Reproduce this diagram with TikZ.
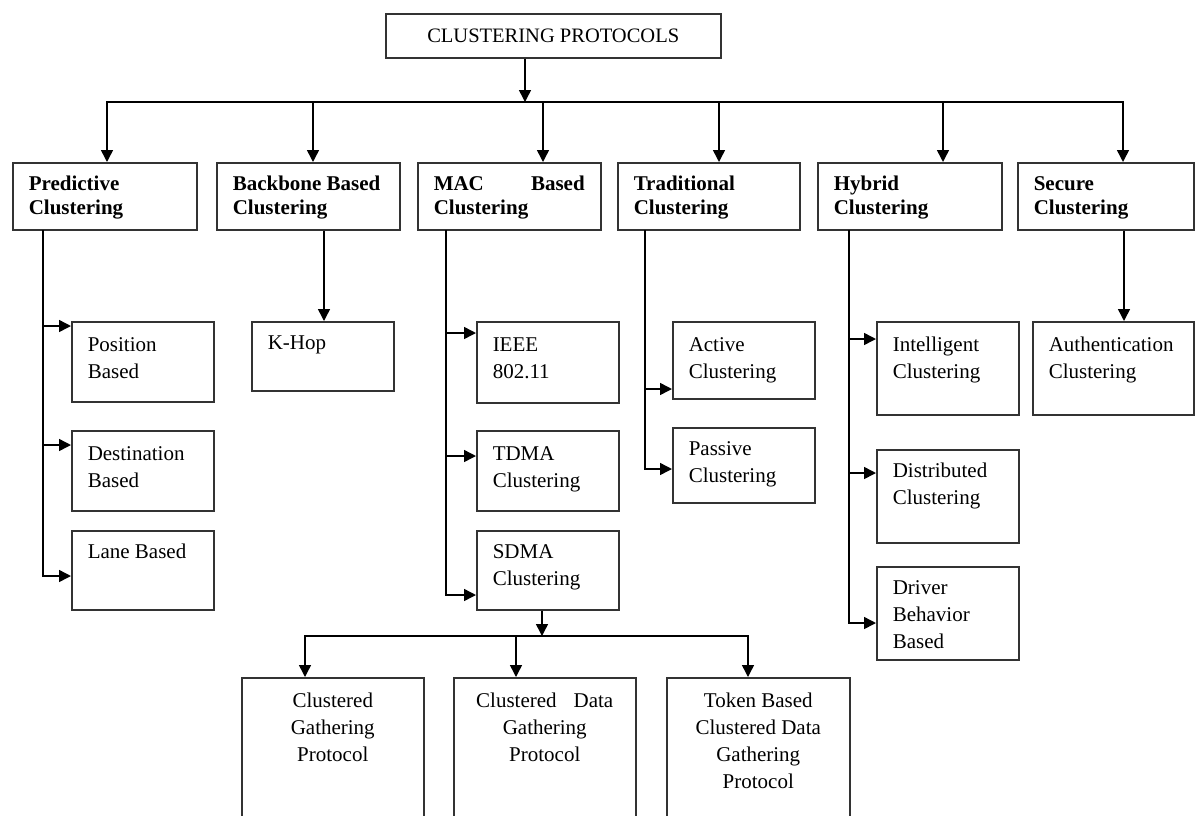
\documentclass[tikz,border=0pt]{standalone}
\usepackage{fontspec}
\setmainfont{Liberation Serif}
\usetikzlibrary{arrows.meta}

% text of a box: width, height, first baseline, lines
\newcommand{\celltxt}[4]{\parbox[c][#2pt][t]{#1pt}{\raggedright\leftskip=16pt\rightskip=16pt plus 2em\rule{0pt}{#3pt}#4}}
\newcommand{\midtxt}[2]{\parbox[c][160pt][t]{#1pt}{\centering\rule{0pt}{30pt}#2}}

\begin{document}
\begin{tikzpicture}[x=1pt, y=-1pt,
    head/.style={draw=black!80, line width=1.5pt, inner sep=0pt, anchor=north west, font=\bfseries\fontsize{21}{24}\selectfont},
    leaf/.style={draw=black!80, line width=1.5pt, inner sep=0pt, anchor=north west, font=\fontsize{21}{27}\selectfont},
    arr/.style={line width=1.5pt, -{Triangle[length=12pt,width=12pt]}},
    wire/.style={line width=1.5pt, line cap=rect}]
  \useasboundingbox (0,0) rectangle (1195,815);
  \clip (0,0) rectangle (1195,815);

  % Root
  \node[draw=black!80, line width=1.5pt, inner sep=0pt, anchor=north west, minimum width=335pt, minimum height=44pt,
        font=\fontsize{20.5}{24}\selectfont] (title) at (385,13) {CLUSTERING PROTOCOLS};

  % Families
  \node[head] (pred) at (12,162)   {\celltxt{184}{67}{28}{Predictive\\Clustering}};
  \node[head] (bone) at (216,162)  {\celltxt{183}{67}{28}{Backbone Based\\Clustering}};
  \node[head] (mac)  at (417,162)  {\celltxt{183}{67}{28}{MAC\hfill Based\\Clustering}};
  \node[head] (trad) at (617,162)  {\celltxt{182}{67}{28}{Traditional\\Clustering}};
  \node[head] (hyb)  at (817,162)  {\celltxt{184}{67}{28}{Hybrid\\Clustering}};
  \node[head] (sec)  at (1017,162) {\celltxt{176}{67}{28}{Secure\\Clustering}};

  % Leaves
  \node[leaf] (pos)   at (71,321)   {\celltxt{142}{80}{30}{Position\\Based}};
  \node[leaf] (dest)  at (71,430)   {\celltxt{142}{80}{30}{Destination\\Based}};
  \node[leaf] (lane)  at (71,530)   {\celltxt{142}{79}{28}{Lane Based}};
  \node[leaf] (khop)  at (251,321)  {\celltxt{142}{69}{28}{K-Hop}};
  \node[leaf] (ieee)  at (476,321)  {\celltxt{142}{81}{30}{IEEE\\802.11}};
  \node[leaf] (tdma)  at (476,430)  {\celltxt{142}{80}{30}{TDMA\\Clustering}};
  \node[leaf] (sdma)  at (476,530)  {\celltxt{142}{79}{28}{SDMA\\Clustering}};
  \node[leaf] (act)   at (672,321)  {\celltxt{142}{77}{30}{Active\\Clustering}};
  \node[leaf] (pas)   at (672,427)  {\celltxt{142}{75}{28}{Passive\\Clustering}};
  \node[leaf] (intel) at (876,321)  {\celltxt{142}{93}{30}{Intelligent\\Clustering}};
  \node[leaf] (dist)  at (876,449)  {\celltxt{142}{93}{28}{Distributed\\Clustering}};
  \node[leaf] (drv)   at (876,566)  {\celltxt{142}{93}{28}{Driver\\Behavior\\Based}};
  \node[leaf] (auth)  at (1032,321) {\celltxt{161}{93}{30}{Authentication\\Clustering}};

  % SDMA protocols
  \node[leaf] (cgp)  at (241,677) {\midtxt{182}{Clustered\\Gathering\\Protocol}};
  \node[leaf] (cdgp) at (453,677) {\midtxt{182}{Clustered\hspace{17pt}Data\\Gathering\\Protocol}};
  \node[leaf] (tok)  at (666,677) {\midtxt{183}{Token Based\\Clustered Data\\Gathering\\Protocol}};

  % Root to families
  \coordinate (hub) at (525,102);
  \draw[arr] (hub |- title.south) -- (hub);
  \draw[wire] (107,102) -- (1123,102);
  \foreach \x/\n in {107/pred, 313/bone, 543/mac, 719/trad, 943/hyb, 1123/sec}
    \draw[arr] (\x,102) -- (\x,0 |- \n.north);

  % Predictive
  \draw[wire] (43,0 |- pred.south) -- (43,576);
  \foreach \y/\n in {326/pos, 445/dest, 576/lane}
    \draw[arr] (43,\y) -- (\n.west |- 43,\y);

  % Backbone
  \draw[arr] (324,0 |- bone.south) -- (324,0 |- khop.north);

  % MAC
  \draw[wire] (446,0 |- mac.south) -- (446,595);
  \foreach \y/\n in {333/ieee, 456/tdma, 595/sdma}
    \draw[arr] (446,\y) -- (\n.west |- 446,\y);
  \coordinate (sub) at (542,636);
  \draw[arr] (sub |- sdma.south) -- (sub);
  \draw[wire] (305,636) -- (748,636);
  \foreach \x/\n in {305/cgp, 516/cdgp, 748/tok}
    \draw[arr] (\x,636) -- (\x,0 |- \n.north);

  % Traditional
  \draw[wire] (645,0 |- trad.south) -- (645,469);
  \foreach \y/\n in {389/act, 469/pas}
    \draw[arr] (645,\y) -- (\n.west |- 645,\y);

  % Hybrid
  \draw[wire] (849,0 |- hyb.south) -- (849,623);
  \foreach \y/\n in {339/intel, 473/dist, 623/drv}
    \draw[arr] (849,\y) -- (\n.west |- 849,\y);

  % Secure
  \draw[arr] (1124,0 |- sec.south) -- (1124,0 |- auth.north);
\end{tikzpicture}
\end{document}
